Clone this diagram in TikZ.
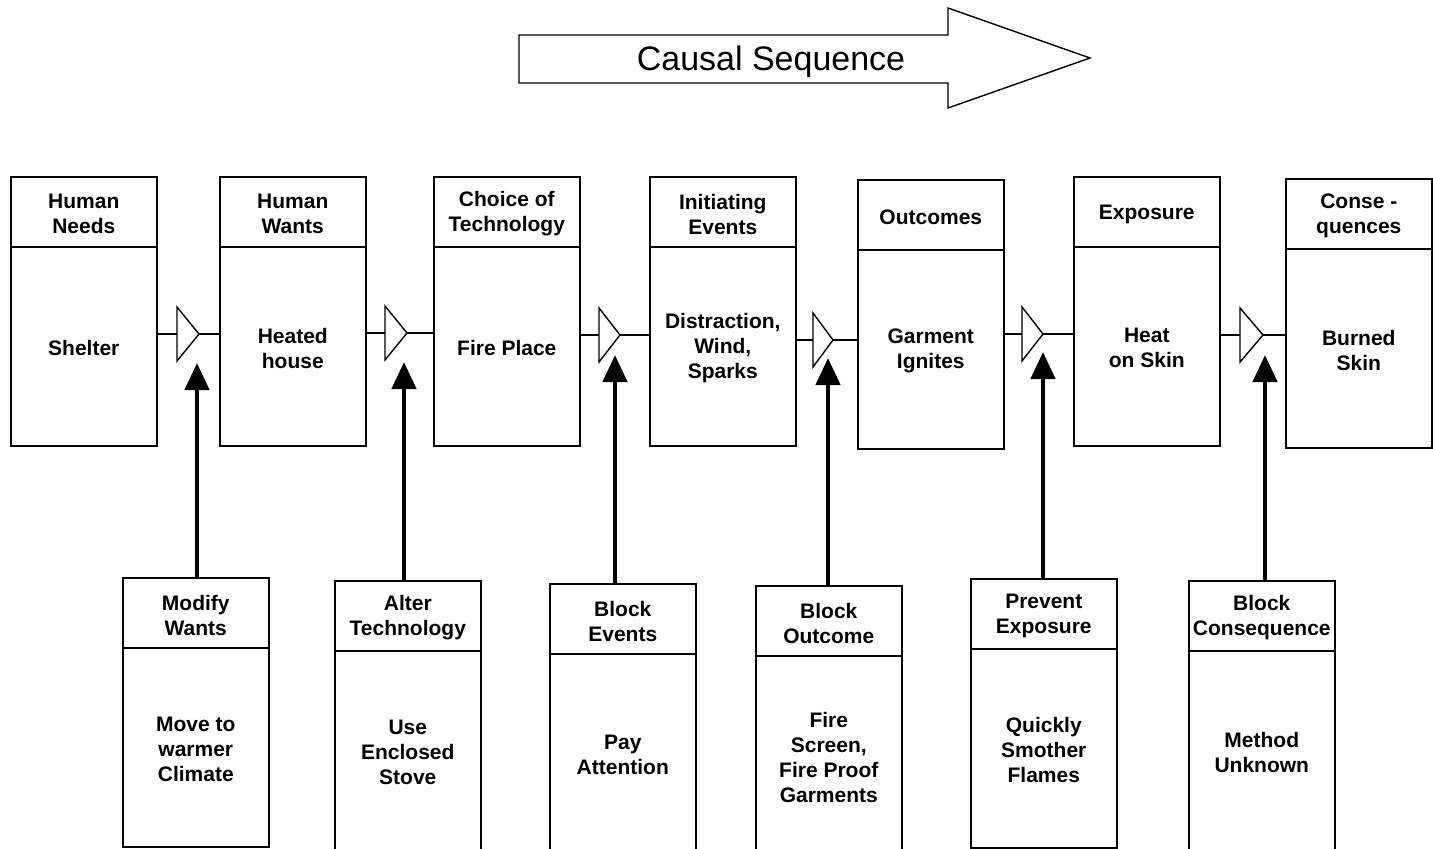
\documentclass[tikz,border=0pt]{standalone}
\usepackage{fontspec}
\setmainfont{Liberation Sans}
\usetikzlibrary{arrows.meta, positioning, calc}

\begin{document}
\begin{tikzpicture}[
    x=1pt, y=-1pt,
    stage/.style={rectangle, draw=black, line width=1.6pt, minimum width=146pt, minimum height=269pt, anchor=north west, inner sep=0pt},
    headrule/.style={line width=2.6pt},
    txt/.style={font=\fontsize{21}{25}\selectfont\bfseries, align=center},
    gate/.style={line width=1.4pt, line join=miter},
    wire/.style={line width=1.4pt},
    block/.style={-{Triangle[width=24pt,length=27pt]}, line width=4.5pt}
]
\useasboundingbox (0,0) rectangle (1433,849);

% Causal sequence arrow
\draw[line width=1.4pt] (519,35) -- (948,35) -- (948,8) -- (1090,58) -- (948,108) -- (948,83) -- (519,83) -- cycle;
\node[font=\fontsize{34}{40}\selectfont] (seq) at (771,62) {Causal Sequence};

% Causal chain (top row) and countermeasures (bottom row)
\foreach \n/\x/\y/\h/\b in {
    needs/10/176/{Human\\Needs}/{Shelter},
    wants/219/176/{Human\\Wants}/{Heated\\house},
    tech/433/176/{Choice of\\Technology}/{Fire Place},
    events/649/176/{Initiating\\Events}/{Distraction,\\Wind,\\Sparks},
    outcomes/857/179/{Outcomes}/{Garment\\Ignites},
    exposure/1073/176/{Exposure}/{Heat\\on Skin},
    conseq/1285/178/{Conse -\\quences}/{Burned\\Skin},
    modify/122/577/{Modify\\Wants}/{Move to\\warmer\\Climate},
    alter/334/580/{Alter\\Technology}/{Use\\Enclosed\\Stove},
    blockev/549/583/{Block\\Events}/{Pay\\Attention},
    blockout/755/585/{Block\\Outcome}/{Fire\\Screen,\\Fire Proof\\Garments},
    prevent/970/578/{Prevent\\Exposure}/{Quickly\\Smother\\Flames},
    blockcon/1188/580/{Block\\Consequence}/{Method\\Unknown}}
{
  \node[stage] (\n) at (\x,\y) {};
  \draw[headrule] ([yshift=-71pt]\n.north west) -- ([yshift=-71pt]\n.north east);
  \node[txt] (\n-h) at ([yshift=-38pt]\n.north) {\h};
  \node[txt] (\n-b) at ([yshift=-172pt]\n.north) {\b};
}

% Gates between stages
\foreach \g/\l/\t/\y in {1/177/199/334, 2/385/407/333, 3/599/620/335,
                         4/813/833/340, 5/1022/1043/334, 6/1240/1263/335}
{
  \coordinate (g\g-in) at (\l,\y);
  \coordinate (g\g-out) at (\t,\y);
  \draw[gate] (\l,\y-27) -- (\t,\y) -- (\l,\y+27) -- cycle;
}

% Arrow tips under the gates
\coordinate (a1) at (197,363);
\coordinate (a2) at (404,362);
\coordinate (a3) at (615,355);
\coordinate (a4) at (828,358);
\coordinate (a5) at (1043,352);
\coordinate (a6) at (1265,355);

% Wires through the gates
\foreach \a/\b/\g in {needs/wants/1, wants/tech/2, tech/events/3,
                      events/outcomes/4, outcomes/exposure/5, exposure/conseq/6}
{
  \draw[wire] (\a.east |- g\g-in) -- (g\g-in);
  \draw[wire] (g\g-out) -- (\b.west |- g\g-out);
}

% Countermeasures acting on the gates
\foreach \c/\g in {modify/1, alter/2, blockev/3, blockout/4, prevent/5, blockcon/6}
  \draw[block] (a\g |- \c.north) -- (a\g);

\end{tikzpicture}
\end{document}
